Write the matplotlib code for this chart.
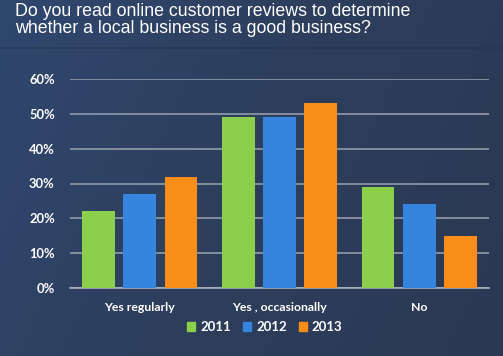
import numpy as np
from matplotlib import pyplot as plt
from matplotlib.colors import LinearSegmentedColormap
from matplotlib.patches import Patch

categories = ["Yes regularly", "Yes , occasionally", "No"]
years = ["2011", "2012", "2013"]
values_2011 = [0.22, 0.49, 0.29]
values_2012 = [0.27, 0.49, 0.24]
values_2013 = [0.32, 0.53, 0.15]
colors = ["#8ccf4b", "#3585df", "#f88e18"]

title = "Do you read online customer reviews to determine\nwhether a local business is a good business?"

fig = plt.figure(figsize=(5.03, 3.56), dpi=100)

# background gradient
bg = fig.add_axes([0, 0, 1, 1], zorder=-10)
bgmap = LinearSegmentedColormap.from_list("bg", ["#30476e", "#2d3e5c", "#2b3852"])
xx = np.linspace(0, 1, 200)
yy = np.linspace(0, 1, 150)
grad = 0.75 * xx[None, :] + 0.25 * yy[:, None]
bg.imshow(grad, cmap=bgmap, aspect="auto", extent=[0, 1, 0, 1], origin="upper")
# header divider
bg.axhline(1 - 48 / 356, color="#26344d", lw=1.2, alpha=0.7)
bg.set_xlim(0, 1)
bg.set_ylim(0, 1)
bg.axis("off")

fig.text(15 / 503, 1 - 3 / 356, title, color="white", fontsize=12.8,
         family="Liberation Sans", va="top", ha="left", linespacing=0.98)

ax = fig.add_axes([70 / 503, 1 - 288 / 356, 419 / 503, 209 / 356])
ax.set_facecolor("none")

x = np.arange(len(categories))
step = 0.295
width = 0.235
series = [values_2011, values_2012, values_2013]
for i, (vals, yr) in enumerate(zip(series, years)):
    ax.bar(x + (i - 1) * step, vals, width=width, color=colors[i], label=yr, zorder=3)

ax.set_xlim(-0.5, 2.5)
ax.set_ylim(0, 0.6)
ax.set_yticks(np.arange(0, 0.61, 0.1))
ax.set_yticklabels(["{0}%".format(int(round(v * 100))) for v in np.arange(0, 0.61, 0.1)])
ax.set_xticks(x)
ax.set_xticklabels(categories)
ax.grid(axis="y", color="#9aa3b0", lw=1.1, zorder=0)
ax.tick_params(axis="both", length=0, colors="white", labelsize=8.8)
ax.tick_params(axis="y", labelsize=9.3, pad=11)
ax.tick_params(axis="x", pad=10)
for lab in ax.get_xticklabels() + ax.get_yticklabels():
    lab.set_family("Lato")
    lab.set_fontweight("bold")

for s in ["top", "right", "left"]:
    ax.spines[s].set_visible(False)
ax.spines["bottom"].set_color("#b0b7c2")
ax.spines["bottom"].set_linewidth(1.1)

handles = [Patch(color=c) for c in colors]
leg = fig.legend(handles, years, loc="center", bbox_to_anchor=(265 / 503, 1 - 327 / 356),
                 ncol=3, frameon=False, handlelength=0.6, handleheight=0.6,
                 handletextpad=0.4, columnspacing=0.9,
                 prop={"family": "Lato", "weight": "bold", "size": 9.5})
for t in leg.get_texts():
    t.set_color("white")

fig.savefig("out.png", dpi=100)
